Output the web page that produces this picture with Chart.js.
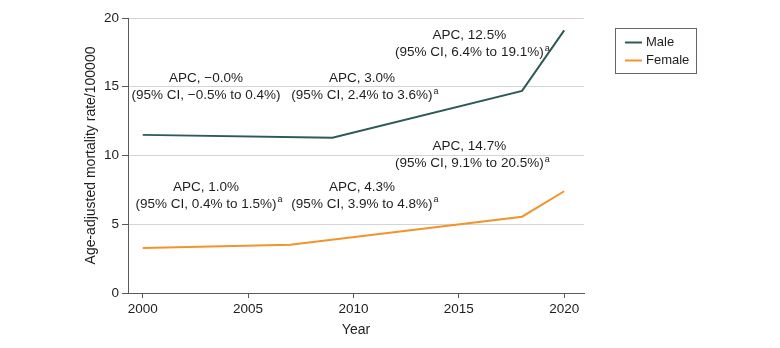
<!DOCTYPE html>
<html>
<head>
<meta charset="utf-8">
<script src="https://cdn.jsdelivr.net/npm/chart.js@4"></script>
<style>
  html, body { margin: 0; padding: 0; background: #fff; }
  #wrap { width: 780px; height: 348px; }
</style>
</head>
<body>
<div id="wrap"><canvas id="chart" width="780" height="348"></canvas></div>
<script>
// ===== Data (joinpoint model values) =====
const maleYears = [2000, 2009, 2018, 2020];
const maleRates = [11.5, 11.3, 14.7, 19.1];
const femaleYears = [2000, 2007, 2018, 2020];
const femaleRates = [3.27, 3.51, 5.55, 7.4];
const xTicks = [2000, 2005, 2010, 2015, 2020];
const yTicks = [0, 5, 10, 15, 20];
const seriesLabels = ['Male', 'Female'];

// APC labels, anchored in data units (year, rate)
const apcNotes = [
  { x: 2003.0, y: 14.97, lines: ['APC, \u22120.0%', '(95% CI, \u22120.5% to 0.4%)'], sup: false },
  { x: 2010.4, y: 14.97, lines: ['APC, 3.0%', '(95% CI, 2.4% to 3.6%)'], sup: true },
  { x: 2015.5, y: 18.09, lines: ['APC, 12.5%', '(95% CI, 6.4% to 19.1%)'], sup: true },
  { x: 2003.0, y: 7.08, lines: ['APC, 1.0%', '(95% CI, 0.4% to 1.5%)'], sup: true },
  { x: 2010.4, y: 7.08, lines: ['APC, 4.3%', '(95% CI, 3.9% to 4.8%)'], sup: true },
  { x: 2015.5, y: 10.02, lines: ['APC, 14.7%', '(95% CI, 9.1% to 20.5%)'], sup: true }
];

const FONT = "'Liberation Sans', Arial, sans-serif";
const maleColor = '#2c5b57';
const femaleColor = '#f4922c';
const axisColor = '#5a5a5a';
const textColor = '#1e1e1e';

const toPoints = (xs, ys) => xs.map((x, i) => ({ x, y: ys[i] }));

// draws the APC notes and the boxed legend
const notesPlugin = {
  id: 'notes',
  afterDatasetsDraw(chart) {
    const { ctx, scales: { x, y } } = chart;
    ctx.save();
    ctx.fillStyle = textColor;
    ctx.textBaseline = 'middle';
    apcNotes.forEach(n => {
      const px = x.getPixelForValue(n.x);
      const py = y.getPixelForValue(n.y);
      ctx.font = '13.5px ' + FONT;
      ctx.textAlign = 'center';
      ctx.fillText(n.lines[0], px, py - 8.5);
      ctx.fillText(n.lines[1], px, py + 8.5);
      if (n.sup) {
        const w = ctx.measureText(n.lines[1]).width;
        ctx.font = '9px ' + FONT;
        ctx.textAlign = 'left';
        ctx.fillText('a', px + w / 2 + 1, py + 4);
      }
    });

    // legend
    const lx = chart.chartArea.right + 31;
    const ly = 28;
    ctx.strokeStyle = '#666';
    ctx.lineWidth = 1;
    ctx.strokeRect(lx + 0.5, ly + 0.5, 81, 45);
    ctx.font = '13px ' + FONT;
    ctx.textAlign = 'left';
    chart.data.datasets.forEach((ds, i) => {
      const cy = ly + 14.5 + i * 18;
      ctx.strokeStyle = ds.borderColor;
      ctx.lineWidth = 2;
      ctx.beginPath();
      ctx.moveTo(lx + 10, cy);
      ctx.lineTo(lx + 27, cy);
      ctx.stroke();
      ctx.fillStyle = textColor;
      ctx.fillText(ds.label, lx + 31, cy);
    });
    ctx.restore();
  }
};

new Chart(document.getElementById('chart'), {
  type: 'line',
  data: {
    datasets: [
      {
        label: seriesLabels[0],
        data: toPoints(maleYears, maleRates),
        borderColor: maleColor,
        borderWidth: 2,
        pointRadius: 0,
        tension: 0
      },
      {
        label: seriesLabels[1],
        data: toPoints(femaleYears, femaleRates),
        borderColor: femaleColor,
        borderWidth: 2,
        pointRadius: 0,
        tension: 0
      }
    ]
  },
  options: {
    responsive: false,
    animation: false,
    layout: { padding: { left: 80, right: 196, top: 18, bottom: 0 } },
    plugins: {
      legend: { display: false },
      tooltip: { enabled: false }
    },
    scales: {
      x: {
        type: 'linear',
        min: 1999.3,
        max: 2020.94,
        afterBuildTicks: scale => { scale.ticks = xTicks.map(v => ({ value: v })); },
        afterFit: scale => { scale.height = 55; },
        ticks: {
          color: textColor,
          font: { family: FONT, size: 13.5 },
          padding: 3,
          maxRotation: 0,
          callback: v => String(v)
        },
        grid: {
          drawOnChartArea: false,
          tickLength: 5,
          tickColor: axisColor
        },
        border: { color: axisColor },
        title: {
          display: true,
          text: 'Year',
          color: textColor,
          font: { family: FONT, size: 14 },
          padding: { top: 0, bottom: 9 }
        }
      },
      y: {
        min: 0,
        max: 20,
        afterBuildTicks: scale => { scale.ticks = yTicks.map(v => ({ value: v })); },
        afterFit: scale => { scale.width = 48; },
        ticks: {
          color: textColor,
          font: { family: FONT, size: 13.5 },
          padding: 3
        },
        grid: {
          color: '#d4d4d4',
          tickLength: 6,
          tickColor: axisColor
        },
        border: { color: axisColor },
        title: {
          display: true,
          text: 'Age-adjusted mortality rate/100000',
          color: textColor,
          font: { family: FONT, size: 14 },
          padding: { top: 3, bottom: 0 }
        }
      }
    }
  },
  plugins: [notesPlugin]
});
</script>
</body>
</html>
